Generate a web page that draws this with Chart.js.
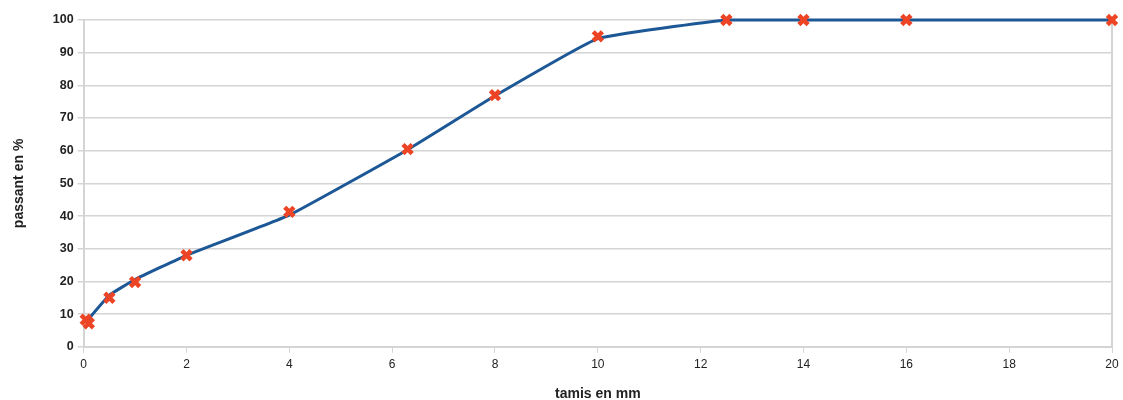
<!DOCTYPE html>
<html>
<head>
<meta charset="utf-8">
<script src="https://cdn.jsdelivr.net/npm/chart.js@4/dist/chart.umd.min.js"></script>
<style>
    html, body { margin: 0; padding: 0; background: #fff; }
    #wrap { width: 1123px; height: 400px; }
</style>
</head>
<body>
<div id="wrap"><canvas id="courbe"></canvas></div>
<script>
// tamis (mm) et passant (%) mesurés
const tamis = [0.04, 0.1, 0.5, 1, 2, 4, 6.3, 8, 10, 12.5, 14, 16, 20];
const passant = [8.3, 7.2, 15, 19.8, 28, 41.3, 60.5, 77, 95, 100, 100, 100, 100];

// courbe lissée
const tamisCourbe = [0.063, 0.5, 1, 2, 4, 6.3, 8, 10, 12.5, 14, 16, 20];
const passantCourbe = [7.9, 15.8, 20.6, 28, 40.3, 60.3, 76.8, 94.3, 100, 100, 100, 100];

const xTicks = [0, 2, 4, 6, 8, 10, 12, 14, 16, 18, 20];

const police = "'Liberation Sans', Arial, sans-serif";
const gris = '#d4d4d4';

const ctx = document.getElementById('courbe').getContext('2d');
new Chart(ctx, {
    type: 'scatter',
    data: {
        datasets: [
            {
                label: 'courbe',
                type: 'line',
                data: tamisCourbe.map((x, i) => ({ x: x, y: passantCourbe[i] })),
                borderColor: '#1c5796',
                borderWidth: 3,
                pointRadius: 0,
                tension: 0.1,
                fill: false,
                clip: false,
                order: 2
            },
            {
                label: 'mesures',
                data: tamis.map((x, i) => ({ x: x, y: passant[i] })),
                pointStyle: 'crossRot',
                pointRadius: 6.5,
                pointBorderWidth: 4.5,
                borderColor: '#ec4424',
                backgroundColor: '#ec4424',
                showLine: false,
                clip: false,
                order: 1
            }
        ]
    },
    options: {
        responsive: true,
        maintainAspectRatio: false,
        animation: false,
        layout: { padding: { top: 20, right: 7, bottom: -3, left: 11 } },
        plugins: {
            legend: { display: false },
            tooltip: { enabled: false }
        },
        scales: {
            x: {
                type: 'linear',
                min: 0,
                max: 20,
                afterBuildTicks: axis => { axis.ticks = xTicks.map(v => ({ value: v })); },
                afterFit: axis => { axis.paddingRight = 0; },
                grid: { drawOnChartArea: false, color: gris, tickLength: 6 },
                border: { color: gris, width: 2 },
                ticks: { color: '#222', font: { family: police, size: 12 }, padding: 5, maxRotation: 0 },
                title: {
                    display: true,
                    text: 'tamis en mm',
                    color: '#222',
                    font: { family: police, size: 14, weight: 'bold' },
                    padding: { top: 9, bottom: 0 }
                }
            },
            y: {
                min: 0,
                max: 100,
                ticks: { stepSize: 10, color: '#222', font: { family: police, size: 12.5, weight: 'bold' }, padding: 4 },
                grid: { color: gris, lineWidth: 1.5, tickLength: 6 },
                border: { color: gris, width: 2 },
                title: {
                    display: true,
                    text: 'passant en %',
                    color: '#222',
                    font: { family: police, size: 14, weight: 'bold' },
                    padding: { top: 0, bottom: 21 }
                }
            },
            y2: {
                position: 'right',
                min: 0,
                max: 100,
                afterFit: axis => { axis.width = 0; },
                ticks: { display: false },
                grid: { display: false },
                border: { color: gris, width: 2 }
            }
        }
    }
});
</script>
</body>
</html>
